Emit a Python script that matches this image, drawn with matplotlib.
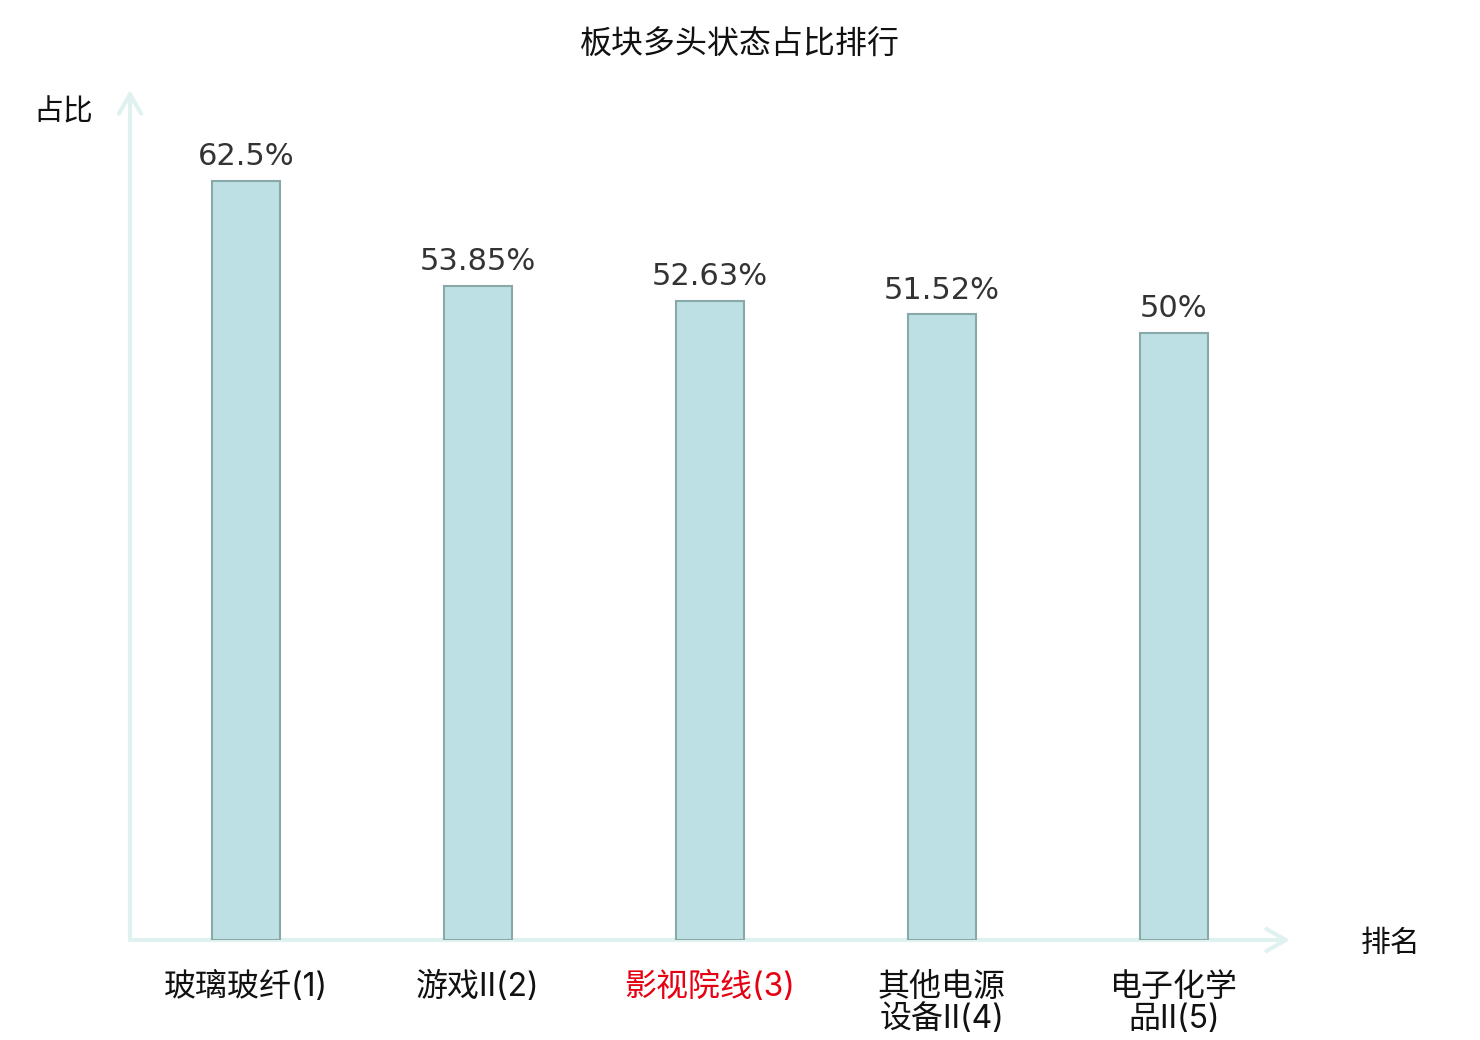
import matplotlib.pyplot as plt

plt.rcParams['font.family'] = ['Noto Sans CJK SC', 'DejaVu Sans']

# 数据
categories = ['玻璃玻纤(1)', '游戏Ⅱ(2)', '影视院线(3)', '其他电源\n设备Ⅱ(4)', '电子化学\n品Ⅱ(5)']
values = [62.5, 53.85, 52.63, 51.52, 50]
value_labels = ['62.5%', '53.85%', '52.63%', '51.52%', '50%']
highlight = 2

axis_color = '#dff2ef'
bar_color = '#bce0e3'
edge_color = '#8aa8a8'

fig = plt.figure(figsize=(14.8, 10.4), dpi=100)
ax = fig.add_axes([130 / 1480, 100 / 1040, 1160 / 1480, 850 / 1040])

x = list(range(len(categories)))
ax.bar(x, values, width=0.29, color=bar_color, edgecolor=edge_color, linewidth=1.5, zorder=3)

for xi, v, lab in zip(x, values, value_labels):
    ax.annotate(lab, (xi, v), xytext=(0, 7), textcoords='offset points',
                ha='center', va='bottom', fontsize=22, color='#333333',
                family='DejaVu Sans')

ax.set_xlim(-0.5, 4.5)
ax.set_ylim(0, 70)

for s in ax.spines.values():
    s.set_visible(False)
ax.set_yticks([])
ax.set_xticks(x)
ax.set_xticklabels(categories, fontsize=23, linespacing=1.05, va='top',
                   family=['Inter', 'Noto Sans CJK SC'])
ax.tick_params(axis='x', length=0, pad=23)
for i, t in enumerate(ax.get_xticklabels()):
    t.set_color('#e60012' if i == highlight else '#111111')

# 坐标轴箭头
arrow = dict(arrowstyle='->,head_length=1.4,head_width=0.8', color=axis_color, lw=3,
             shrinkA=0, shrinkB=0)
ax.annotate('', xy=(0, 1), xytext=(0, 0), xycoords='axes fraction', arrowprops=arrow, zorder=1)
ax.annotate('', xy=(1, 0), xytext=(0, 0), xycoords='axes fraction', arrowprops=arrow, zorder=1)

fig.text(63 / 1480, 1 - 112 / 1040, '占比', fontsize=21.5, ha='center', va='center', color='#111111')
fig.text(1391 / 1480, 1 - 943 / 1040, '排名', fontsize=21.5, ha='center', va='center', color='#111111')
fig.text(740 / 1480, 1 - 45 / 1040, '板块多头状态占比排行', fontsize=23, ha='center', va='center', color='#111111')

fig.savefig('out.png', dpi=100)
